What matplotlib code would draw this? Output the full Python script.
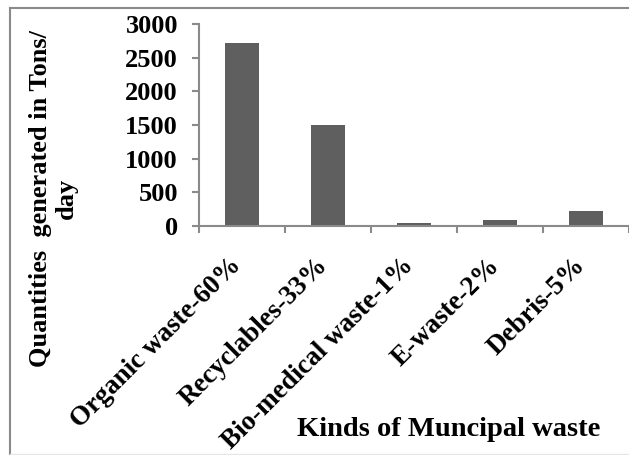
import matplotlib
matplotlib.use("Agg")
import matplotlib.pyplot as plt
from matplotlib.lines import Line2D

categories = ['Organic waste-60%', 'Recyclables-33%', 'Bio-medical waste-1%',
              'E-waste-2%', 'Debris-5%']
quantities = [2720, 1495, 45, 90, 225]
yticks = [0, 500, 1000, 1500, 2000, 2500, 3000]

plt.rcParams['font.family'] = 'Liberation Serif'
plt.rcParams['font.weight'] = 'bold'

fig = plt.figure(figsize=(6.29, 4.55), dpi=100)
ax = fig.add_axes([0.316, 0.503, 0.684, 0.444])

x = range(len(categories))
ax.bar(x, quantities, width=0.39, color='#5f5f5f')

ax.set_xlim(-0.5, len(categories) - 0.5)
ax.set_ylim(0, 3000)
ax.set_yticks(yticks)
ax.set_yticklabels([str(v) for v in yticks], fontsize=19, fontweight='bold')

# category boundary ticks, Excel style
ax.set_xticks([i - 0.5 for i in range(len(categories) + 1)])
ax.set_xticklabels([])
ax.tick_params(axis='both', direction='out', length=5, width=1.5, color='#8a8a8a')
ax.tick_params(axis='y', pad=10)

for s in ['top', 'right']:
    ax.spines[s].set_visible(False)
for s in ['left', 'bottom']:
    ax.spines[s].set_color('#8a8a8a')
    ax.spines[s].set_linewidth(1.5)

for i, lab in enumerate(categories):
    ax.annotate(lab, xy=(i, 0), xycoords=('data', 'axes fraction'),
                xytext=(-3, -26), textcoords='offset points',
                rotation=45, ha='right', va='center', rotation_mode='anchor',
                fontsize=19.5, fontweight='bold')

fig.text(0.714, 0.055, 'Kinds of Muncipal waste', ha='center', va='center',
         fontsize=20.5, fontweight='bold')
fig.text(0.085, 0.564, 'Quantities  generated in Tons/\nday', ha='center', va='center',
         rotation=90, fontsize=19, fontweight='bold', linespacing=1.15,
         multialignment='center')

# outer frame
fig.add_artist(Line2D([10 / 629, 1.0], [1 - 8 / 455, 1 - 8 / 455],
                      transform=fig.transFigure, color='#8a8a8a', lw=1.5))
fig.add_artist(Line2D([10 / 629, 10 / 629], [1 / 455, 1 - 8 / 455],
                      transform=fig.transFigure, color='#8a8a8a', lw=1.5))
fig.add_artist(Line2D([10 / 629, 1.0], [1 / 455, 1 / 455],
                      transform=fig.transFigure, color='#e6e6e6', lw=1))

fig.savefig('out.png', dpi=100)
